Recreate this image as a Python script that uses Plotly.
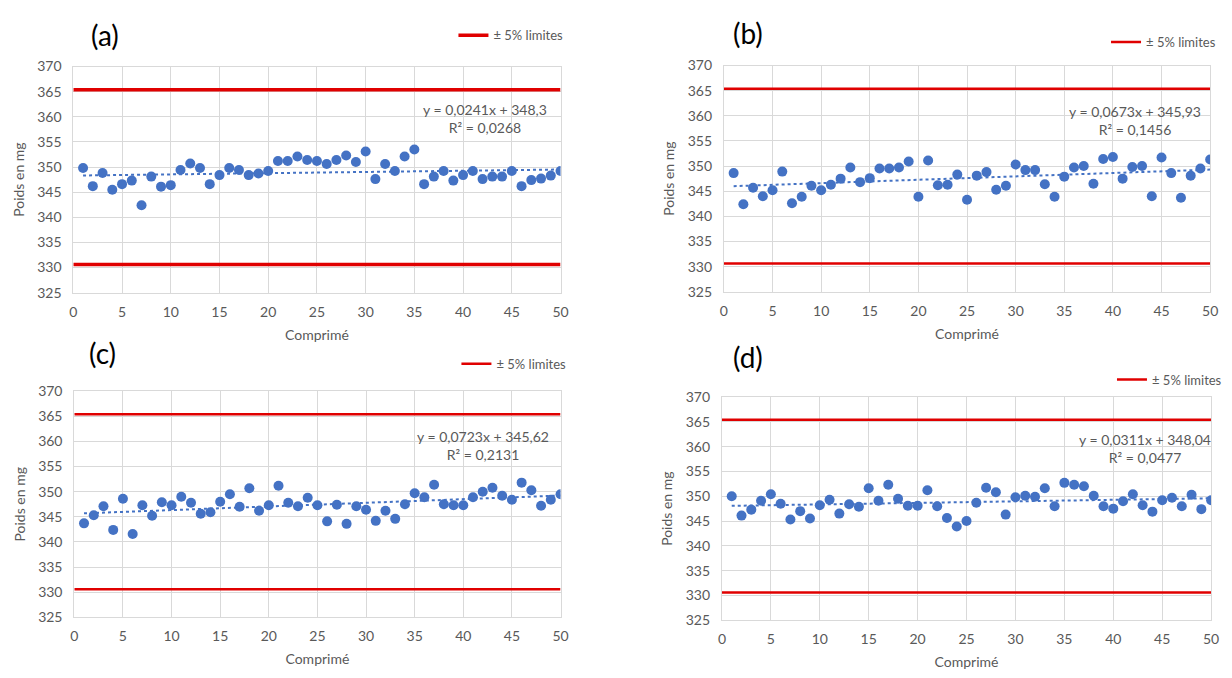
import plotly.graph_objects as go

comprime = list(range(1, 51))

poids_a = [349.8, 346.2, 348.8, 345.5, 346.6, 347.3, 342.4, 348.1, 346.1, 346.4,
           349.4, 350.7, 349.8, 346.6, 348.4, 349.8, 349.4, 348.4, 348.7, 349.2,
           351.2, 351.2, 352.1, 351.4, 351.2, 350.6, 351.4, 352.3, 351.0, 353.1,
           347.6, 350.6, 349.2, 352.1, 353.5, 346.6, 348.1, 349.2, 347.3, 348.4,
           349.2, 347.6, 348.1, 348.1, 349.2, 346.2, 347.4, 347.7, 348.3, 349.2]

poids_b = [348.6, 342.4, 345.7, 344.0, 345.2, 348.9, 342.6, 343.9, 346.1, 345.2,
           346.3, 347.5, 349.7, 346.8, 347.6, 349.5, 349.5, 349.7, 350.9, 343.9,
           351.1, 346.2, 346.3, 348.3, 343.3, 348.1, 348.8, 345.3, 346.1, 350.3,
           349.2, 349.2, 346.4, 343.9, 347.9, 349.7, 350.0, 346.5, 351.4, 351.8,
           347.5, 349.8, 350.0, 344.0, 351.7, 348.6, 343.7, 348.1, 349.5, 351.3]

poids_c = [343.7, 345.3, 347.1, 342.4, 348.6, 341.6, 347.3, 345.2, 347.9, 347.3,
           349.0, 347.8, 345.6, 345.9, 348.0, 349.5, 347.0, 350.7, 346.2, 347.3,
           351.2, 347.8, 347.1, 348.8, 347.3, 344.1, 347.4, 343.6, 347.1, 346.4,
           344.2, 346.2, 344.6, 347.5, 349.7, 348.9, 351.4, 347.5, 347.3, 347.3,
           348.9, 350.0, 350.8, 349.2, 348.4, 351.8, 350.3, 347.2, 348.4, 349.5]

poids_d = [350.0, 346.1, 347.3, 349.1, 350.4, 348.5, 345.3, 347.0, 345.5, 348.2,
           349.3, 346.5, 348.4, 347.9, 351.6, 349.1, 352.3, 349.5, 348.1, 348.1,
           351.2, 348.0, 345.6, 343.9, 345.0, 348.7, 351.7, 350.8, 346.3, 349.8,
           350.1, 349.9, 351.6, 348.0, 352.7, 352.3, 352.0, 350.1, 348.0, 347.5,
           349.0, 350.4, 348.2, 346.9, 349.2, 349.7, 348.0, 350.3, 347.4, 349.2]

panel_labels = ["(a)", "(b)", "(c)", "(d)"]
slopes = [0.0241, 0.0673, 0.0723, 0.0311]
intercepts = [348.3, 345.93, 345.62, 348.04]
slope_txt = ["0,0241", "0,0673", "0,0723", "0,0311"]
intercept_txt = ["348,3", "345,93", "345,62", "348,04"]
r2_txt = ["0,0268", "0,1456", "0,2131", "0,0477"]
limite_basse = 330.6
limite_haute = 365.4
x_ticks = [0, 5, 10, 15, 20, 25, 30, 35, 40, 45, 50]
y_ticks = [325, 330, 335, 340, 345, 350, 355, 360, 365, 370]

series = [poids_a, poids_b, poids_c, poids_d]

W, H = 1232, 678
# plot areas in pixels: (left, right, top, bottom)
areas = [(70, 562, 59, 291), (727, 1218, 58, 290), (71, 562, 392, 624), (725, 1219, 398, 627)]
title_pos = [(102, 27), (751, 25), (99, 353), (751, 357)]
legend_pos = [(570, 27), (1229, 34), (573, 364), (1235, 380)]
eq_pos = [(486, 112), (1142, 114), (484, 448), (1152, 451)]
red_widths = [3.5, 2.5, 2.5, 2.5]

BLUE = "#4472C4"
GRAY = "#595959"
GRID = "#D9D9D9"
FONT = "Lato, 'Noto Sans', sans-serif"

fig = go.Figure()
annotations = []
layout_extra = {}

for i in range(4):
    suf = "" if i == 0 else str(i + 1)
    xa, ya = "x" + suf, "y" + suf
    leg = "legend" if i == 0 else "legend" + str(i + 1)
    vals = series[i]
    l, r, t, b = areas[i]

    # limits
    for k, lim in enumerate([limite_haute, limite_basse]):
        fig.add_trace(go.Scatter(
            x=[0, 50], y=[lim, lim], mode="lines",
            line=dict(color="#E00000", width=red_widths[i]),
            name="± 5% limites", showlegend=(k == 0), legend=leg,
            xaxis=xa, yaxis=ya, hoverinfo="skip"))

    # trend line
    tx = [comprime[0], comprime[-1]]
    ty = [intercepts[i] + slopes[i] * v for v in tx]
    fig.add_trace(go.Scatter(
        x=tx, y=ty, mode="lines", line=dict(color=BLUE, width=2, dash="dot"),
        showlegend=False, xaxis=xa, yaxis=ya))

    # points
    fig.add_trace(go.Scatter(
        x=comprime, y=vals, mode="markers",
        marker=dict(color=BLUE, size=10, line=dict(width=0)),
        showlegend=False, xaxis=xa, yaxis=ya))

    layout_extra["xaxis" + suf] = dict(
        domain=[l / W, r / W], anchor=ya, range=[0, 50], tickvals=x_ticks,
        showgrid=True, gridcolor=GRID, gridwidth=1, zeroline=False,
        showline=True, linecolor=GRID, mirror=True, ticks="",
        ticklabelstandoff=6,
        tickfont=dict(size=14, color=GRAY, family=FONT),
        title=dict(text="Comprimé", font=dict(size=14, color=GRAY, family=FONT), standoff=11))
    layout_extra["yaxis" + suf] = dict(
        domain=[1 - b / H, 1 - t / H], anchor=xa, range=[325, 370], tickvals=y_ticks,
        showgrid=True, gridcolor=GRID, gridwidth=1, zeroline=False,
        showline=True, linecolor=GRID, mirror=True, ticks="",
        ticklabelstandoff=8,
        tickfont=dict(size=14, color=GRAY, family=FONT),
        title=dict(text="Poids en mg", font=dict(size=14, color=GRAY, family=FONT), standoff=9))

    lx, ly = legend_pos[i]
    layout_extra[leg] = dict(
        x=lx / W, y=1 - ly / H, xanchor="right", yanchor="middle",
        bgcolor="rgba(0,0,0,0)", font=dict(size=13, color=GRAY, family=FONT),
        itemwidth=30, tracegroupgap=0)

    px, py = title_pos[i]
    annotations.append(dict(
        x=px / W, y=1 - py / H, xref="paper", yref="paper", text=panel_labels[i],
        showarrow=False, font=dict(size=28, color="black", family=FONT),
        xanchor="center", yanchor="middle"))

    ex, ey = eq_pos[i]
    annotations.append(dict(
        x=ex / W, y=1 - ey / H, xref="paper", yref="paper",
        text="y = " + slope_txt[i] + "x + " + intercept_txt[i] + "<br>R² = " + r2_txt[i],
        showarrow=False, align="center", font=dict(size=14, color=GRAY, family=FONT),
        xanchor="center", yanchor="middle"))

fig.update_layout(
    width=W, height=H, margin=dict(l=0, r=0, t=0, b=0),
    paper_bgcolor="white", plot_bgcolor="white",
    annotations=annotations, font=dict(family=FONT), **layout_extra)

fig.write_html("out.html", config={"displayModeBar": False},
               post_script="document.body.style.margin='0';document.body.style.overflow='hidden';")
